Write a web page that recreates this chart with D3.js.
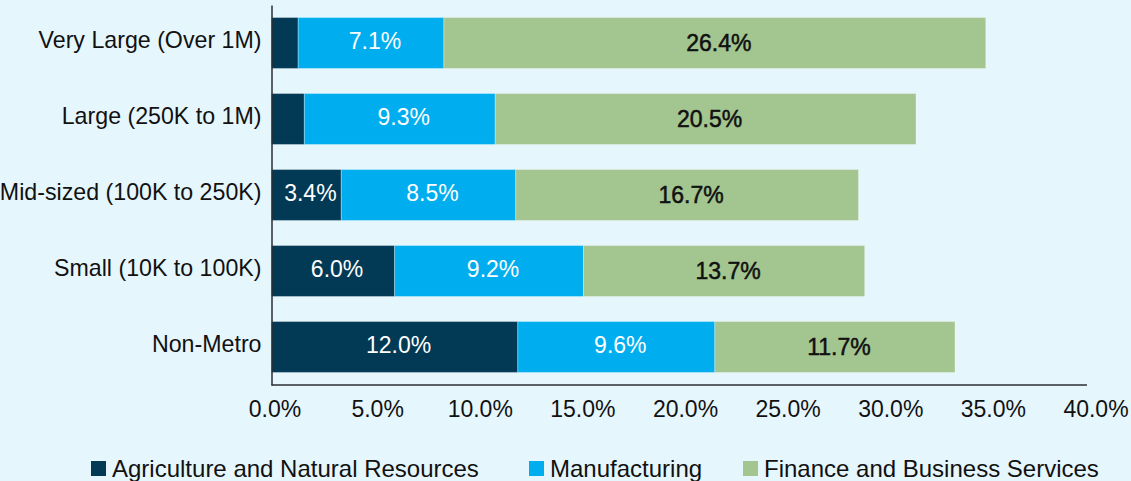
<!DOCTYPE html>
<html>
<head>
<meta charset="utf-8">
<script src="https://cdn.jsdelivr.net/npm/d3@7/dist/d3.min.js"></script>
<style>
  html, body { margin: 0; padding: 0; background: #e6f6fd; }
  svg { display: block; font-family: "Liberation Sans", Arial, Helvetica, sans-serif; }
</style>
</head>
<body>
<svg id="chart" width="1131" height="481"></svg>
<script>
// Share of employment by sector, by size of metro area
const categories = ["Very Large (Over 1M)", "Large (250K to 1M)", "Mid-sized (100K to 250K)", "Small (10K to 100K)", "Non-Metro"];
const agriculture = [1.3, 1.6, 3.4, 6.0, 12.0];
const manufacturing = [7.1, 9.3, 8.5, 9.2, 9.6];
const finance = [26.4, 20.5, 16.7, 13.7, 11.7];
const seriesNames = ["Agriculture and Natural Resources", "Manufacturing", "Finance and Business Services"];
const seriesColors = ["#023a56", "#00aeef", "#a3c58f"];
const labelColors = ["#ffffff", "#ffffff", "#111111"];
const xTicks = [0, 5, 10, 15, 20, 25, 30, 35, 40];
const minLabelValue = 3; // segments narrower than this carry no label

const svg = d3.select("#chart");
const plot = { left: 271.5, right: 1092.5, top: 5, bottom: 385 };

const x = d3.scaleLinear().domain([0, 40]).range([plot.left, plot.right]);
const y = d3.scaleBand().domain(categories).range([plot.top, plot.bottom]).paddingInner(0.33).paddingOuter(0.165);

// Build stacked rows
const rows = categories.map((c, i) => ({ cat: c, agri: agriculture[i], manu: manufacturing[i], fin: finance[i] }));
const stack = d3.stack().keys(["agri", "manu", "fin"]);
const layers = stack(rows);

const g = svg.append("g");

layers.forEach((layer, li) => {
  const lg = g.append("g");
  lg.selectAll("rect")
    .data(layer)
    .join("rect")
    .attr("x", d => x(d[0]))
    .attr("y", d => y(d.data.cat))
    .attr("width", d => x(d[1]) - x(d[0]))
    .attr("height", y.bandwidth())
    .attr("fill", seriesColors[li])
    .attr("stroke", "rgba(255,255,255,0.3)")
    .attr("stroke-width", 1);

  lg.selectAll("text")
    .data(layer.filter(d => d[1] - d[0] >= minLabelValue))
    .join("text")
    .attr("x", d => (x(d[0]) + x(d[1])) / 2 + 4)
    .attr("y", d => y(d.data.cat) + y.bandwidth() / 2 + (li === 2 ? 8 : 5.5))
    .attr("text-anchor", "middle")
    .attr("fill", labelColors[li])
    .attr("stroke", li === 2 ? labelColors[li] : "none")
    .attr("stroke-width", 0.5)
    .attr("font-size", 23)
    .text(d => (d[1] - d[0]).toFixed(1) + "%");
});

// Category axis
const yAxis = g.append("g")
  .attr("transform", `translate(${plot.left},0)`)
  .call(d3.axisLeft(y).tickSize(0).tickPadding(10));
yAxis.select(".domain").attr("stroke", "#2b2f33").attr("stroke-width", 1.5);
yAxis.selectAll(".tick text")
  .attr("font-size", 23.2)
  .attr("fill", "#111")
  .attr("dy", null)
  .attr("y", 4.5);

// Value axis; its baseline stops just short of the last tick
const xAxis = g.append("g")
  .attr("transform", `translate(0,${plot.bottom})`)
  .call(d3.axisBottom(x).tickValues(xTicks).tickSize(0).tickFormat(v => v.toFixed(1) + "%"));
xAxis.select(".domain")
  .attr("d", `M${x(0)},0H${x(39.73)}`)
  .attr("stroke", "#2b2f33").attr("stroke-width", 1.5);
xAxis.selectAll(".tick text")
  .attr("font-size", 23)
  .attr("fill", "#111")
  .attr("dy", null)
  .attr("x", 3)
  .attr("y", 32);

// Legend
const legendX = [91, 529, 743];
const legend = svg.append("g").attr("transform", "translate(0,461)");
seriesNames.forEach((name, i) => {
  legend.append("rect")
    .attr("x", legendX[i]).attr("y", 0)
    .attr("width", 15).attr("height", 15)
    .attr("fill", seriesColors[i]);
  legend.append("text")
    .attr("x", legendX[i] + 21).attr("y", 16)
    .attr("font-size", 24)
    .attr("fill", "#111")
    .text(name);
});
</script>
</body>
</html>
